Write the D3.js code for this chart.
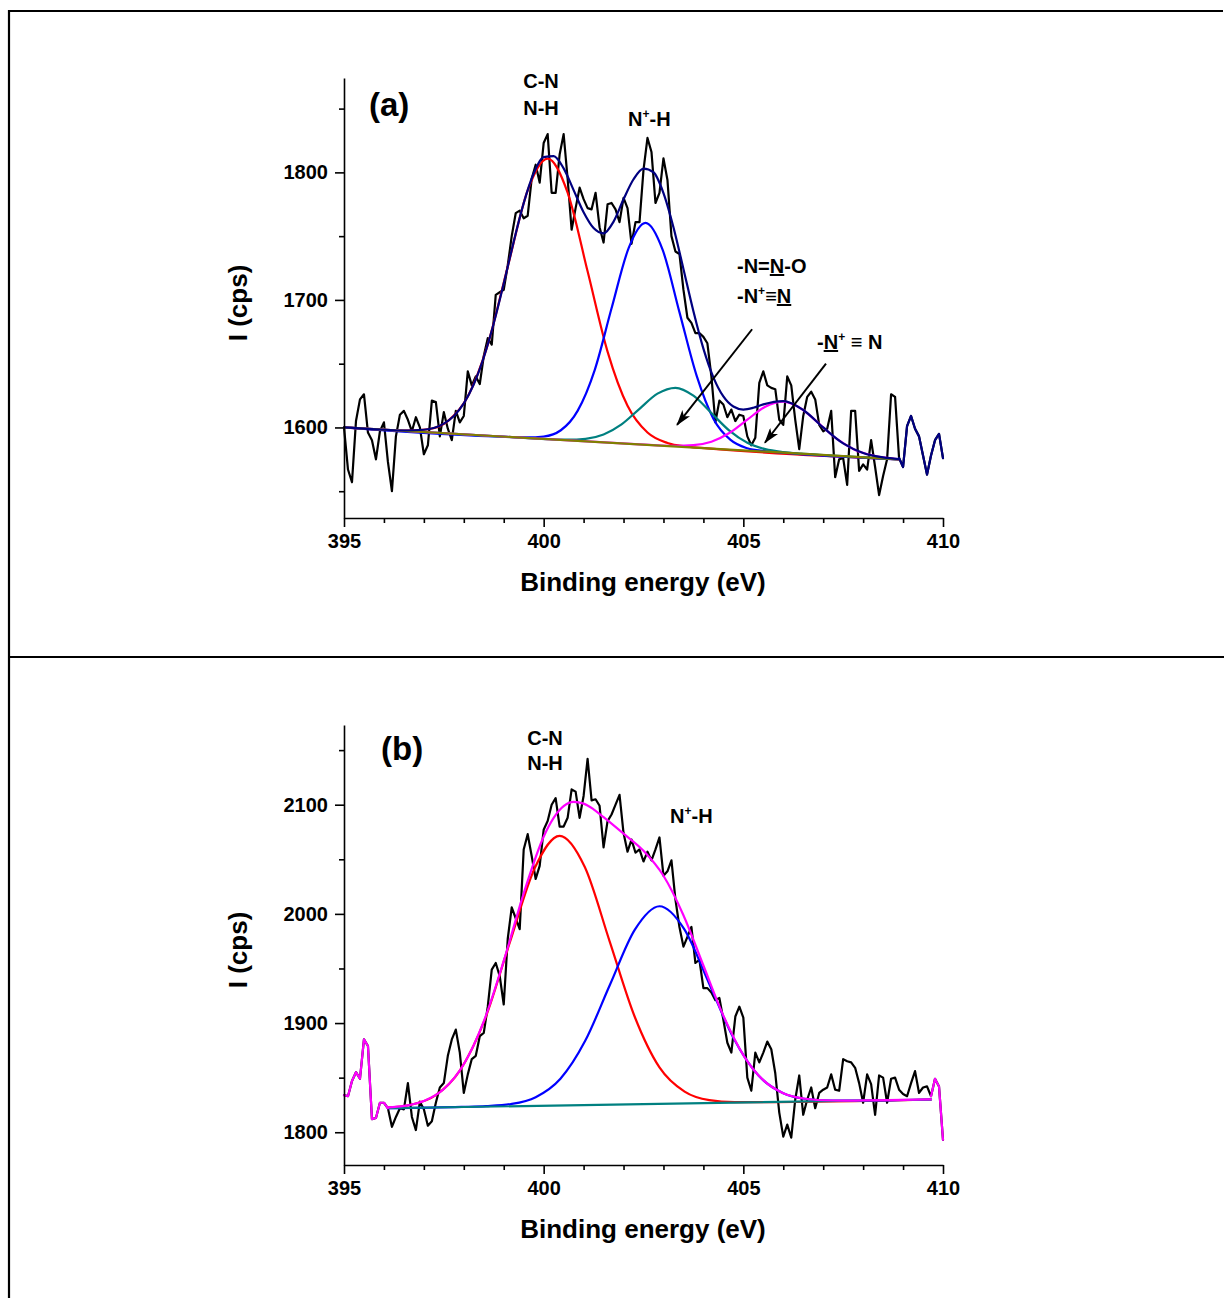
<!DOCTYPE html>
<html>
<head>
<meta charset="utf-8">
<script src="https://cdn.jsdelivr.net/npm/d3@7"></script>
<style>
  html, body { margin: 0; padding: 0; background: #fff; }
  svg text { font-family: Arial, "Liberation Sans", Helvetica, sans-serif; font-weight: bold; fill: #000; }
  .axis .domain, .axis line { stroke: #000; stroke-width: 1.6px; }
  .axis text { font-size: 20px; }
  .trace { fill: none; stroke-width: 2.2px; stroke-linejoin: round; stroke-linecap: round; }
</style>
</head>
<body>
<svg id="chart" width="1224" height="1298"></svg>
<script>
(function() {
  var energies, rawA, rawB, baselineA, peakRedA, peakBlueA, peakTealA, peakMagA, envelopeA,
      baselineB, peakRedB, peakBlueB, envelopeB, arrowsA, xTicks, xMinor,
      yTicksA, yMinorA, yTicksB, yMinorB, svg, x, drawPanel, richText, smooth, straight, pairs;

  // measured spectra, one value every 0.1 eV from 395 to 410 eV
  energies = d3.range(151).map(function(i) { return Math.round((395 + i * 0.1) * 10) / 10; });

  rawA = [1600, 1567, 1557, 1605, 1622, 1626, 1596, 1590, 1575, 1597,
          1604, 1573, 1550, 1593, 1610, 1613, 1606, 1597, 1608, 1600,
          1579, 1586, 1621, 1620, 1593, 1612, 1599, 1590, 1613, 1604,
          1609, 1644, 1633, 1640, 1634, 1656, 1670, 1665, 1704, 1706,
          1708, 1727, 1750, 1768, 1770, 1764, 1766, 1795, 1806, 1792,
          1823, 1830, 1784, 1784, 1814, 1830, 1795, 1755, 1772, 1788,
          1779, 1772, 1771, 1784, 1757, 1745, 1775, 1776, 1771, 1761,
          1780, 1772, 1744, 1761, 1761, 1802, 1827, 1816, 1776, 1784,
          1811, 1794, 1750, 1738, 1736, 1708, 1686, 1682, 1674, 1674,
          1671, 1666, 1640, 1604, 1621, 1618, 1608, 1614, 1605, 1610,
          1609, 1593, 1586, 1592, 1635, 1644, 1633, 1631, 1630, 1606,
          1602, 1640, 1633, 1606, 1583, 1609, 1624, 1628, 1622, 1602,
          1597, 1599, 1613, 1561, 1575, 1576, 1555, 1613, 1613, 1566,
          1571, 1567, 1590, 1569, 1547, 1562, 1575, 1626, 1624, 1576,
          1569, 1601, 1609, 1599, 1593, 1578, 1563, 1578, 1590, 1595, 1576];

  rawB = [1834, 1833, 1847, 1855, 1849, 1885, 1879, 1812, 1813, 1827,
          1827, 1822, 1805, 1814, 1822, 1821, 1845, 1814, 1802, 1828,
          1821, 1806, 1810, 1827, 1841, 1845, 1870, 1885, 1894, 1873,
          1836, 1853, 1867, 1870, 1888, 1891, 1915, 1949, 1955, 1943,
          1917, 1977, 2006, 1996, 1986, 2059, 2073, 2053, 2032, 2044,
          2077, 2085, 2100, 2106, 2080, 2080, 2088, 2114, 2112, 2088,
          2108, 2142, 2104, 2105, 2099, 2061, 2085, 2091, 2100, 2109,
          2074, 2057, 2068, 2056, 2059, 2048, 2057, 2049, 2059, 2070,
          2035, 2039, 2049, 2013, 1988, 1970, 1979, 1988, 1955, 1958,
          1932, 1932, 1928, 1921, 1923, 1903, 1882, 1873, 1906, 1915,
          1905, 1850, 1838, 1873, 1864, 1873, 1883, 1876, 1854, 1818,
          1796, 1807, 1795, 1830, 1852, 1816, 1830, 1841, 1822, 1836,
          1839, 1841, 1853, 1839, 1838, 1867, 1865, 1864, 1859, 1845,
          1827, 1853, 1844, 1816, 1852, 1850, 1827, 1849, 1850, 1839,
          1835, 1833, 1845, 1856, 1836, 1841, 1842, 1833, 1849, 1842, 1793];

  // fitted curves of panel (a), [eV, cps]
  baselineA = [[395, 1600], [408.9, 1575]];
  peakRedA = [[395, 1600], [396.1, 1598.0], [396.6, 1597.6], [397.1, 1598.6], [397.6, 1605.0], [398.1, 1624.2],
              [398.6, 1664.9], [399.1, 1726.0], [399.6, 1785.9], [400.1, 1810.8], [400.6, 1784.1], [401.1, 1722.4],
              [401.6, 1659.5], [402.1, 1617.0], [402.6, 1596.0], [403.1, 1587.8], [403.6, 1585.0], [404.1, 1583.6],
              [408.9, 1575.0]];
  peakBlueA = [[395, 1600], [399.15, 1592.5], [399.58, 1592.2], [400.0, 1592.9], [400.43, 1597.8], [400.85, 1613.0],
               [401.28, 1645.2], [401.7, 1693.4], [402.13, 1740.8], [402.55, 1760.4], [402.98, 1739.2], [403.4, 1690.4],
               [403.83, 1640.6], [404.25, 1606.9], [404.68, 1590.2], [405.1, 1583.7], [405.53, 1581.5], [405.95, 1580.3],
               [408.9, 1575]];
  peakTealA = [[395, 1600], [399.7, 1591.5], [400.15, 1590.8], [400.6, 1590.4], [401.05, 1591.1], [401.5, 1594.5],
               [401.95, 1602.4], [402.4, 1614.6], [402.85, 1626.5], [403.3, 1631.1], [403.75, 1624.9], [404.2, 1611.3],
               [404.65, 1597.5], [405.1, 1588.0], [405.55, 1583.0], [406.0, 1580.7], [406.45, 1579.5], [406.9, 1578.6],
               [408.9, 1575]];
  peakMagA = [[395, 1600], [402.4, 1586.7], [402.85, 1586.0], [403.3, 1585.5], [403.75, 1586.1], [404.2, 1588.8],
              [404.65, 1595.6], [405.1, 1606.1], [405.55, 1616.3], [406.0, 1620.2], [406.45, 1614.7], [406.9, 1602.9],
              [407.35, 1590.8], [407.8, 1582.4], [408.25, 1578.0], [408.7, 1575.7], [408.9, 1575.0]];
  envelopeA = [[395, 1600], [396, 1598.2], [396.5, 1597.6], [397, 1598.2], [397.5, 1603.0], [397.75, 1609.0],
               [398, 1618.9], [398.25, 1633.9], [398.5, 1654.9], [398.75, 1681.7], [399, 1712.9], [399.25, 1745.7],
               [399.5, 1775.9], [399.75, 1799.1], [400, 1811.9], [400.25, 1812.7], [400.5, 1803.1], [400.75, 1786.1],
               [401, 1768.7], [401.25, 1756.3], [401.5, 1752.2], [401.75, 1761.4], [402, 1778.9], [402.25, 1794.6],
               [402.5, 1803.0], [402.75, 1800.1], [403, 1783.8], [403.25, 1757.0], [403.5, 1724.3], [403.75, 1691.1],
               [404, 1661.8], [404.25, 1639.3], [404.5, 1624.3], [404.75, 1616.4], [405, 1614.0], [405.25, 1615.4],
               [405.5, 1618.1], [406, 1620.7], [406.5, 1613.7], [407, 1600.0], [407.5, 1587.5], [408, 1580.0],
               [408.5, 1576.5], [408.9, 1575.2]];

  // fitted curves of panel (b)
  baselineB = [[396.1, 1822], [409.7, 1830]];
  peakRedB = [[396.1, 1822.7], [396.65, 1825.0], [397.28, 1833.5], [397.9, 1856.5], [398.53, 1903.6], [399.15, 1973.6],
              [399.78, 2042.2], [400.4, 2071.5], [401.03, 2042.9], [401.65, 1975.1], [402.28, 1905.8], [402.9, 1859.4],
              [403.53, 1837.2], [404.15, 1829.4], [404.78, 1827.6], [405.4, 1827.5], [409.7, 1830.0]];
  peakBlueB = [[396.1, 1822.0], [397.94, 1823.2], [398.56, 1823.9], [399.18, 1825.8], [399.8, 1832.1], [400.42, 1849.0],
               [401.04, 1883.7], [401.66, 1935.1], [402.28, 1985.3], [402.9, 2007.0], [403.52, 1986.1], [404.14, 1936.5],
               [404.76, 1885.9], [405.38, 1851.9], [406.0, 1835.7], [406.62, 1830.2], [407.24, 1829.0], [407.86, 1828.9],
               [409.7, 1830.0]];
  envelopeB = [[396.1, 1822.7], [396.5, 1824.1], [397, 1828.6], [397.5, 1839.6], [398, 1862.3], [398.5, 1901.5],
               [399, 1956.9], [399.5, 2018.8], [400, 2070.7], [400.5, 2098.6], [400.75, 2102.5], [401, 2101.0],
               [401.25, 2095.8], [401.5, 2088.6], [402, 2073.5], [402.5, 2057.8], [403, 2034.9], [403.5, 1998.8],
               [404, 1952.7], [404.5, 1906.8], [405, 1870.7], [405.5, 1847.7], [406, 1835.8], [406.5, 1830.9],
               [407, 1829.3], [407.5, 1829.0], [408, 1829.1], [409, 1829.7], [409.7, 1830.1]];

  // annotation arrows of panel (a): from [eV, cps] to [eV, cps]
  arrowsA = [[405.22, 1677, 403.34, 1602], [407.07, 1650, 405.54, 1588]];

  xTicks = [395, 400, 405, 410];
  xMinor = [396, 397, 398, 399, 401, 402, 403, 404, 406, 407, 408, 409];
  yTicksA = [1600, 1700, 1800];
  yMinorA = [1550, 1650, 1750, 1850];
  yTicksB = [1800, 1900, 2000, 2100];
  yMinorB = [1850, 1950, 2050, 2150];

  svg = d3.select("#chart");

  svg.append("defs").append("marker")
    .attr("id", "head").attr("markerUnits", "userSpaceOnUse")
    .attr("markerWidth", 16).attr("markerHeight", 10)
    .attr("refX", 15).attr("refY", 5).attr("orient", "auto")
    .append("path").attr("d", "M0,0 L16,5 L0,10 L4,5 Z").attr("fill", "#000");

  // frame of the figure (table rules)
  svg.append("line").attr("x1", 8).attr("x2", 1223).attr("y1", 11).attr("y2", 11).attr("stroke", "#000").attr("stroke-width", 2.2);
  svg.append("line").attr("x1", 9).attr("x2", 9).attr("y1", 10).attr("y2", 1298).attr("stroke", "#000").attr("stroke-width", 2.2);
  svg.append("line").attr("x1", 8).attr("x2", 1224).attr("y1", 657).attr("y2", 657).attr("stroke", "#000").attr("stroke-width", 2.2);

  x = d3.scaleLinear().domain([395, 410]).range([344, 943]);

  pairs = function(values, from, to) {
    return energies.map(function(e, i) { return [e, values[i]]; }).slice(from, to);
  };

  richText = function(g, px, py, parts, size, anchor) {
    var t = g.append("text").attr("x", px).attr("y", py).style("font-size", size + "px")
      .attr("text-anchor", anchor || "start");
    parts.forEach(function(p) {
      var s = t.append("tspan").text(p.t);
      if (p.sup) {
        s.style("font-size", "12px").attr("dy", -8);
      } else if (p.after) {
        s.attr("dy", 8);
      }
      if (p.u) {
        s.style("text-decoration", "underline");
      }
    });
    return t;
  };

  drawPanel = function(o) {
    var g, y, bottom;
    g = svg.append("g");
    y = d3.scaleLinear().domain(o.yDomain).range(o.yRange);
    bottom = o.yRange[0];
    smooth = d3.line().x(function(d) { return x(d[0]); }).y(function(d) { return y(d[1]); }).curve(d3.curveMonotoneX);
    straight = d3.line().x(function(d) { return x(d[0]); }).y(function(d) { return y(d[1]); });

    o.layers.forEach(function(l) {
      g.append("path").attr("class", "trace").attr("stroke", l.color)
        .attr("d", (l.raw ? straight : smooth)(l.pts));
    });

    // axes
    g.append("g").attr("class", "axis").attr("transform", "translate(0," + bottom + ")")
      .call(d3.axisBottom(x).tickValues(xMinor).tickSize(5).tickFormat("")).select(".domain").remove();
    g.append("g").attr("class", "axis").attr("transform", "translate(0," + bottom + ")")
      .call(d3.axisBottom(x).tickValues(xTicks).tickSize(9).tickSizeOuter(0).tickPadding(7).tickFormat(d3.format("d")));
    g.append("g").attr("class", "axis").attr("transform", "translate(344,0)")
      .call(d3.axisLeft(y).tickValues(o.yMinor).tickSize(5).tickFormat("")).select(".domain").remove();
    g.append("g").attr("class", "axis").attr("transform", "translate(344,0)")
      .call(d3.axisLeft(y).tickValues(o.yTicks).tickSize(9).tickSizeOuter(0).tickPadding(7).tickFormat(d3.format("d")));

    g.append("text").attr("x", 643).attr("y", bottom + 73).attr("text-anchor", "middle")
      .style("font-size", "26px").text("Binding energy (eV)");
    g.append("text").attr("transform", "translate(247," + ((o.yRange[0] + o.yRange[1]) / 2 + 5) + ") rotate(-90)")
      .attr("text-anchor", "middle").style("font-size", "26px").text("I (cps)");

    o.labels.forEach(function(lb) {
      richText(g, lb.x, lb.y, lb.parts, lb.size || 20, lb.anchor);
    });

    (o.arrows || []).forEach(function(a) {
      g.append("line").attr("x1", x(a[0])).attr("y1", y(a[1])).attr("x2", x(a[2])).attr("y2", y(a[3]))
        .attr("stroke", "#000").attr("stroke-width", 2).attr("marker-end", "url(#head)");
    });
  };

  drawPanel({
    yDomain: [1529, 1874],
    yRange: [518, 78],
    yTicks: yTicksA,
    yMinor: yMinorA,
    layers: [
      { pts: pairs(rawA, 0, 151), color: "#000000", raw: true },
      { pts: peakRedA, color: "#ff0000" },
      { pts: peakBlueA, color: "#0000ff" },
      { pts: peakTealA, color: "#008080" },
      { pts: peakMagA, color: "#ff00ff" },
      { pts: baselineA, color: "#808000" },
      { pts: envelopeA, color: "#000080" },
      { pts: pairs(rawA, 139, 151), color: "#000080", raw: true }
    ],
    labels: [
      { x: 369, y: 116, size: 33, parts: [{ t: "(a)" }] },
      { x: 541, y: 88, anchor: "middle", parts: [{ t: "C-N" }] },
      { x: 541, y: 115, anchor: "middle", parts: [{ t: "N-H" }] },
      { x: 628, y: 126, parts: [{ t: "N" }, { t: "+", sup: true }, { t: "-H", after: true }] },
      { x: 737, y: 273, parts: [{ t: "-N=" }, { t: "N", u: true }, { t: "-O" }] },
      { x: 737, y: 303, parts: [{ t: "-N" }, { t: "+", sup: true }, { t: "\u2261", after: true }, { t: "N", u: true }] },
      { x: 817, y: 349, parts: [{ t: "-" }, { t: "N", u: true }, { t: "+", sup: true }, { t: " \u2261 N", after: true }] }
    ],
    arrows: arrowsA
  });

  drawPanel({
    yDomain: [1770, 2173],
    yRange: [1165, 725],
    yTicks: yTicksB,
    yMinor: yMinorB,
    layers: [
      { pts: pairs(rawB, 0, 151), color: "#000000", raw: true },
      { pts: peakRedB, color: "#ff0000" },
      { pts: peakBlueB, color: "#0000ff" },
      { pts: baselineB, color: "#008080" },
      { pts: envelopeB, color: "#ff00ff" },
      { pts: pairs(rawB, 0, 12), color: "#ff00ff", raw: true },
      { pts: pairs(rawB, 147, 151), color: "#ff00ff", raw: true }
    ],
    labels: [
      { x: 381, y: 760, size: 33, parts: [{ t: "(b)" }] },
      { x: 545, y: 745, anchor: "middle", parts: [{ t: "C-N" }] },
      { x: 545, y: 770, anchor: "middle", parts: [{ t: "N-H" }] },
      { x: 670, y: 823, parts: [{ t: "N" }, { t: "+", sup: true }, { t: "-H", after: true }] }
    ]
  });
}).call(this);
</script>
</body>
</html>
